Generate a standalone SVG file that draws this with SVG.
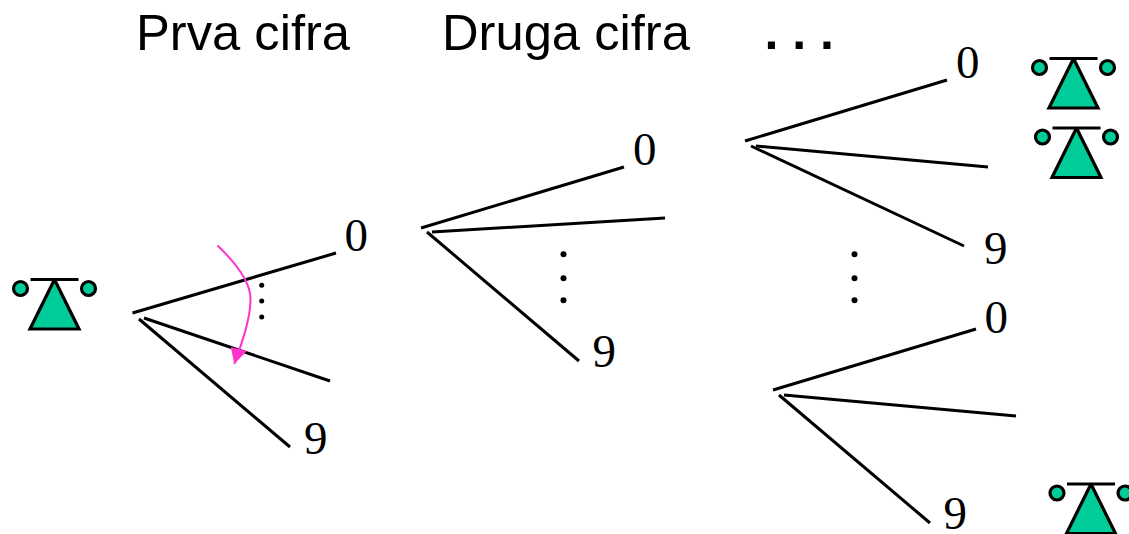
<svg xmlns="http://www.w3.org/2000/svg" width="1129" height="534" viewBox="0 0 1129 534">
<style>
.h{font:50.7px "Liberation Sans",Arial,sans-serif;fill:#000}
.e{font:bold 50px "Liberation Sans",Arial,sans-serif;fill:#000}
.d{font:47px "Liberation Serif","Times New Roman",serif;fill:#000}
.c line{stroke:#000;stroke-width:3;fill:none}
.p *{stroke:#000;stroke-width:3.2;fill:#00cc99;stroke-miterlimit:2}
.p line{fill:none}
.dot{fill:#000}
</style>
<defs>
<marker id="ah" markerUnits="userSpaceOnUse" markerWidth="18" markerHeight="19" refX="4" refY="17.500" orient="0"><path d="M0.500 0.500L16.500 4.500L4 17.500Z" fill="#ff33cc"/></marker>
<g id="phone" class="p"><line x1="-24" y1="0" x2="24" y2="0"/><path d="M0 0L24.500 49.500H-24.500Z"/><circle cx="-34" cy="9" r="7"/><circle cx="34" cy="9" r="7"/></g>
</defs>
<rect width="1129" height="534" fill="#fff"/>
<text class="h" x="136" y="50">Prva cifra</text>
<text class="h" x="442" y="50">Druga cifra</text>
<text class="e" x="764.500" y="49">. . .</text>
<g id="connectors" class="c">
<line x1="132.500" y1="313" x2="336" y2="253"/><line x1="144" y1="318" x2="330" y2="381"/><line x1="139" y1="319" x2="290" y2="447"/>
<line x1="421" y1="228" x2="624" y2="167"/><line x1="432" y1="232" x2="665" y2="218"/><line x1="427" y1="232" x2="579" y2="361"/>
<line x1="745" y1="141" x2="947" y2="80"/><line x1="756" y1="146" x2="988" y2="167"/><line x1="751" y1="146" x2="964" y2="246"/>
<line x1="773" y1="390" x2="976" y2="329"/><line x1="784" y1="395" x2="1016" y2="416"/><line x1="779" y1="395" x2="930" y2="523"/>
<path d="M217.500 245.500C238 265 250.500 283 250.500 299C250.500 318 243 340 234.300 364" fill="none" stroke="#ff33cc" stroke-width="2" marker-end="url(#ah)"/>
</g>
<g id="phone1"><use href="#phone" x="54.500" y="279.500"/></g>
<g id="phone2"><use href="#phone" x="1073.500" y="58.500"/></g>
<g id="phone3"><use href="#phone" x="1076.500" y="128"/></g>
<g id="phone4"><use href="#phone" x="1091" y="484"/></g>
<g id="labels">
<text class="d" x="344.500" y="251">0</text><text class="d" x="304" y="454">9</text>
<text class="d" x="633" y="165">0</text><text class="d" x="592.500" y="367">9</text>
<text class="d" x="956" y="78">0</text><text class="d" x="984" y="264">9</text>
<text class="d" x="984.500" y="333">0</text><text class="d" x="943.500" y="529">9</text>
</g>
<g id="dots" class="dot">
<circle cx="261.700" cy="285.300" r="2.500"/><circle cx="261.700" cy="301" r="2.500"/><circle cx="261.700" cy="317" r="2.500"/>
<circle cx="563.500" cy="254.300" r="3"/><circle cx="563.500" cy="278.300" r="3"/><circle cx="563.500" cy="300.300" r="3"/>
<circle cx="854.500" cy="254.300" r="3"/><circle cx="854.500" cy="278.300" r="3"/><circle cx="854.500" cy="300.300" r="3"/>
</g>
</svg>
